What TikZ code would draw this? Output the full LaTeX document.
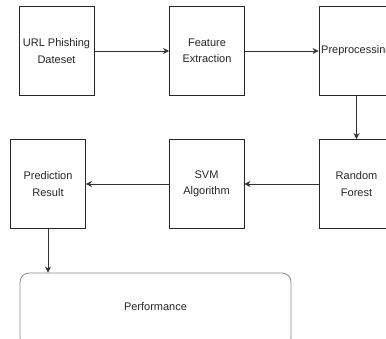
\documentclass[tikz,border=0pt]{standalone}
\usepackage{fontspec}
\setmainfont{Liberation Sans}
\usetikzlibrary{arrows.meta}
\begin{document}
\begin{tikzpicture}[x=1pt,y=-1pt,
  stepbox/.style={draw=black!85, line width=0.8pt, minimum width=75pt, minimum height=89pt, inner sep=0pt, align=center, font=\fontsize{11}{16.5}\selectfont, text=black!85},
  conn/.style={draw=black!80, line width=0.8pt, -{Stealth[length=6pt,width=6pt]}},
  lbl/.style={font=\fontsize{11}{16.5}\selectfont, text=black!85}]
\useasboundingbox (0,0) rectangle (386,338);
\clip (0,0) rectangle (386,338);
\node[stepbox] (url) at (56.5,51) {URL Phishing\\Dateset};
\node[stepbox] (fe) at (207,51) {Feature\\Extraction};
\node[stepbox] (pre) at (356.5,51) {};
\node[lbl, anchor=west, inner sep=0pt] (pretext) at (321,51) {Preprocessing};
\node[stepbox] (rf) at (356.5,184) {Random\\Forest};
\node[stepbox] (svm) at (206.5,184) {SVM\\Algorithm};
\node[stepbox] (pred) at (48,184) {Prediction\\Result};
\node[draw=black!45, line width=0.8pt, rounded corners=9pt, minimum width=271pt, minimum height=74pt, inner sep=0pt, font=\fontsize{11}{16.5}\selectfont, text=black!85] (perf) at (155.5,310) {};
\node[lbl] (perftext) at (155.5,307) {Performance};
\draw[conn] (url) -- (fe);
\draw[conn] (fe) -- (pre);
\draw[conn] (pre) -- (rf);
\draw[conn] (rf) -- (svm);
\draw[conn] (svm) -- (pred);
\draw[conn] (pred.south) -- (pred.south |- perf.north);
\end{tikzpicture}
\end{document}
